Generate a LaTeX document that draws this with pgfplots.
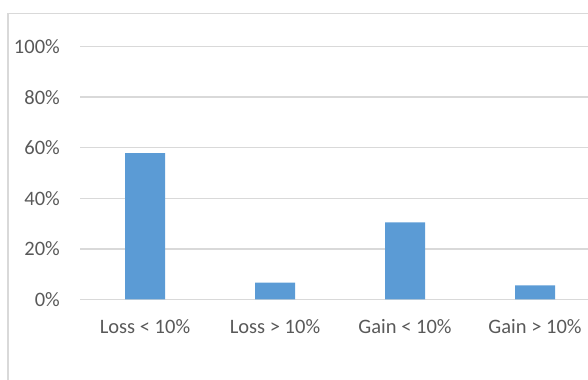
\documentclass[border=0pt]{standalone}
\usepackage{pgfplots}
\pgfplotsset{compat=1.18}
\usepackage{fontspec}
\setmainfont{Carlito}
\definecolor{barblue}{HTML}{5B9BD5}
\definecolor{gridgray}{HTML}{D9D9D9}
\definecolor{labelgray}{HTML}{595959}
\begin{document}
\begin{tikzpicture}
% page frame of the chart area
\path[use as bounding box] (0bp,0bp) rectangle (588bp,380bp);
\clip (0bp,0bp) rectangle (588bp,380bp);
\draw[gridgray, line width=1.6bp] (8bp,-5bp) -- (8bp,366.5bp) -- (620bp,366.5bp);
\begin{axis}[
  at={(80bp,80.7bp)}, anchor=south west,
  scale only axis, width=520bp, height=252.6bp,
  xmin=-0.5, xmax=3.5, ymin=0, ymax=100,
  ybar, bar width=40bp,
  axis line style={draw=none},
  tick style={draw=none},
  major tick length=0pt,
  ymajorgrids,
  major grid style={gridgray, line width=1.5bp},
  xtick={0,1,2,3},
  xticklabels={Loss < 10\%, Loss > 10\%, Gain < 10\%, Gain > 10\%},
  ytick={0,20,40,60,80,100},
  yticklabels={0\%,20\%,40\%,60\%,80\%,100\%},
  ticklabel style={font=\fontsize{20.5bp}{24bp}\selectfont, text=labelgray, inner sep=0pt},
  yticklabel style={anchor=east, xshift=-20bp},
  xticklabel style={anchor=north, yshift=-20bp},
]
\addplot[fill=barblue, draw=none] coordinates {(0,57.9) (1,6.6) (2,30.5) (3,5.5)};
\end{axis}
\end{tikzpicture}
\end{document}
